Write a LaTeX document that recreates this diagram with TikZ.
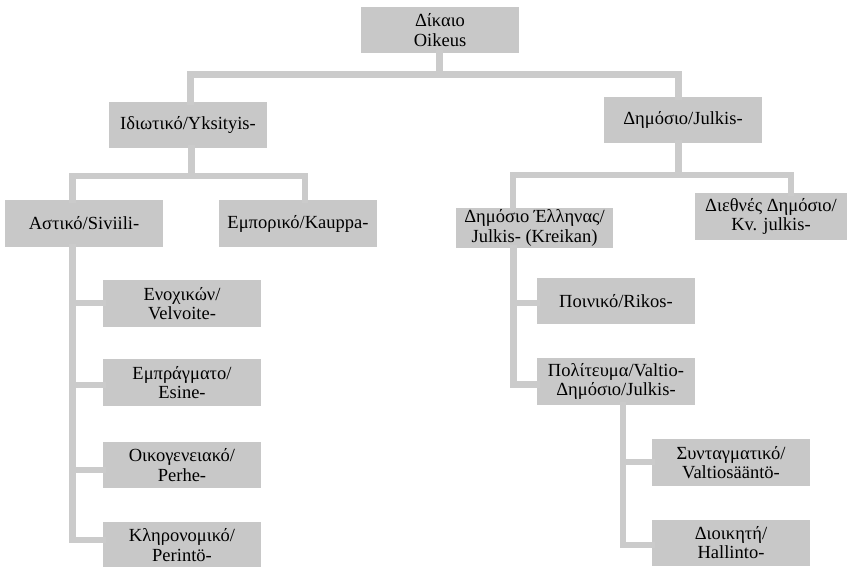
\documentclass[tikz,border=0pt]{standalone}
\usepackage{fontspec}
\setmainfont{Liberation Serif}
\definecolor{boxgray}{RGB}{200,200,200}
\definecolor{linegray}{RGB}{203,203,203}
\begin{document}
\begin{tikzpicture}[x=1pt,y=-1pt,
  box/.style={fill=boxgray,inner sep=0pt,minimum width=158pt,minimum height=46pt,
    align=center,font=\fontsize{18.5}{19.5}\selectfont,text=black},
  conn/.style={draw=linegray,line width=6.5pt,line cap=rect,line join=miter}]
\useasboundingbox (0,0) rectangle (848,567);
% junction coordinates
\coordinate (b0) at (439.5,74.5);
\coordinate (b0l) at (190.5,74.5);
\coordinate (b0r) at (678.5,74.5);
\coordinate (b1) at (191.5,176);
\coordinate (b1l) at (72.5,176);
\coordinate (b1r) at (305,176);
\coordinate (b2) at (678.5,175);
\coordinate (b2l) at (513,175);
\coordinate (b2r) at (791,175);
% nodes
\node[box] (top) at (440,30) {Δίκαιο\\Oikeus};
\node[box] (priv) at (188,125) {Ιδιωτικό/Yksityis-};
\node[box] (pub) at (683,120) {Δημόσιο/Julkis-};
\node[box,minimum height=47pt] (civ) at (84,223.5) {Αστικό/Siviili-};
\node[box,minimum height=47pt] (com) at (298,223.5) {Εμπορικό/Kauppa-};
\node[box,minimum width=157pt,minimum height=40pt] (gpub) at (534.5,228) {Δημόσιο Έλληνας/\\Julkis- (Kreikan)};
\node[box,minimum width=152pt,minimum height=47pt] (intl) at (771,216.5) {Διεθνές Δημόσιο/\\Kv. julkis-};
\node[box,minimum height=47pt] (obl) at (182,303.5) {Ενοχικών/\\Velvoite-};
\node[box,minimum height=47pt] (prop) at (182,382.5) {Εμπράγματο/\\Esine-};
\node[box] (fam) at (182,465) {Οικογενειακό/\\Perhe-};
\node[box] (inh) at (182,545) {Κληρονομικό/\\Perintö-};
\node[box] (crim) at (616,301) {Ποινικό/Rikos-};
\node[box,minimum height=47pt] (polit) at (616,381.5) {Πολίτευμα/Valtio-\\Δημόσιο/Julkis-};
\node[box,minimum height=47pt] (const) at (731,462.5) {Συνταγματικό/\\Valtiosääntö-};
\node[box] (admin) at (731,542.5) {Διοικητή/\\Hallinto-};
% level 0 -> 1
\draw[conn] (top.south -| b0) -- (b0);
\draw[conn] (priv.north -| b0l) -- (b0l) -- (b0r) -- (pub.north -| b0r);
% level 1 -> 2 left
\draw[conn] (priv.south -| b1) -- (b1);
\draw[conn] (civ.north -| b1l) -- (b1l) -- (b1r) -- (com.north -| b1r);
% level 1 -> 2 right
\draw[conn] (pub.south -| b2) -- (b2);
\draw[conn] (gpub.north -| b2l) -- (b2l) -- (b2r) -- (intl.north -| b2r);
% civil law branches
\coordinate (c1) at (72.5,303);
\coordinate (c2) at (72.5,385);
\coordinate (c3) at (72.5,470);
\coordinate (c4) at (72.5,540);
\draw[conn] (civ.south -| c1) -- (c4) -- (c4 -| inh.west);
\draw[conn] (c1) -- (c1 -| obl.west);
\draw[conn] (c2) -- (c2 -| prop.west);
\draw[conn] (c3) -- (c3 -| fam.west);
% greek public law branches
\coordinate (g1) at (513.5,303);
\coordinate (g2) at (513.5,384.5);
\draw[conn] (gpub.south -| g1) -- (g2) -- (g2 -| polit.west);
\draw[conn] (g1) -- (g1 -| crim.west);
% polity branches
\coordinate (p1) at (623,462);
\coordinate (p2) at (623,545);
\draw[conn] (polit.south -| p1) -- (p2) -- (p2 -| admin.west);
\draw[conn] (p1) -- (p1 -| const.west);
\end{tikzpicture}
\end{document}
